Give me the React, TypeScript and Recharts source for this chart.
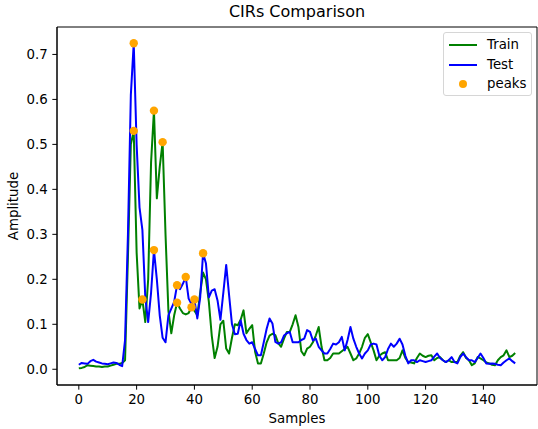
import React from 'react';
import { ComposedChart, Line, Scatter, XAxis, YAxis, Label, ReferenceArea } from 'recharts';

// Sample values (index = sample number 0..151)
const trainValues: number[] = [
  0.002, 0.003, 0.005, 0.009, 0.008, 0.007, 0.006, 0.006, 0.005, 0.006,
  0.006, 0.008, 0.010, 0.012, 0.012, 0.014, 0.020, 0.250, 0.500, 0.530,
  0.260, 0.135, 0.155, 0.105, 0.200, 0.460, 0.575, 0.380, 0.450, 0.505,
  0.300, 0.130, 0.080, 0.120, 0.148, 0.135, 0.125, 0.122, 0.125, 0.138,
  0.130, 0.120, 0.170, 0.215, 0.200, 0.150, 0.075, 0.025, 0.050, 0.100,
  0.108, 0.046, 0.035, 0.070, 0.100, 0.098, 0.110, 0.131, 0.080, 0.090,
  0.098, 0.039, 0.013, 0.013, 0.035, 0.060, 0.075, 0.079, 0.076, 0.058,
  0.050, 0.068, 0.083, 0.083, 0.100, 0.120, 0.094, 0.040, 0.031, 0.046,
  0.050, 0.060, 0.075, 0.094, 0.050, 0.020, 0.020, 0.025, 0.035, 0.035,
  0.035, 0.040, 0.045, 0.050, 0.035, 0.020, 0.024, 0.035, 0.050, 0.070,
  0.078, 0.060, 0.042, 0.020, 0.030, 0.035, 0.038, 0.020, 0.020, 0.020,
  0.020, 0.025, 0.042, 0.025, 0.016, 0.015, 0.013, 0.025, 0.035, 0.030,
  0.027, 0.030, 0.031, 0.020, 0.025, 0.027, 0.020, 0.016, 0.020, 0.016,
  0.016, 0.016, 0.030, 0.038, 0.025, 0.020, 0.009, 0.013, 0.027, 0.024,
  0.020, 0.015, 0.013, 0.010, 0.009, 0.020, 0.027, 0.031, 0.042, 0.027,
  0.030, 0.036,
];

const testValues: number[] = [
  0.010, 0.014, 0.013, 0.012, 0.018, 0.021, 0.017, 0.015, 0.013, 0.012,
  0.011, 0.013, 0.015, 0.014, 0.010, 0.007, 0.065, 0.300, 0.610, 0.725,
  0.500, 0.360, 0.310, 0.160, 0.105, 0.170, 0.265, 0.200, 0.120, 0.070,
  0.060, 0.120, 0.135, 0.150, 0.187, 0.178, 0.190, 0.205, 0.157, 0.145,
  0.155, 0.113, 0.160, 0.258, 0.235, 0.160, 0.175, 0.178, 0.153, 0.110,
  0.170, 0.232, 0.165, 0.100, 0.078, 0.079, 0.109, 0.079, 0.065, 0.057,
  0.060, 0.045, 0.031, 0.031, 0.060, 0.090, 0.113, 0.102, 0.061, 0.057,
  0.060, 0.075, 0.080, 0.083, 0.060, 0.060, 0.060, 0.065, 0.068, 0.087,
  0.083, 0.064, 0.068, 0.050, 0.042, 0.035, 0.035, 0.045, 0.057, 0.055,
  0.060, 0.072, 0.042, 0.065, 0.094, 0.068, 0.050, 0.035, 0.024, 0.035,
  0.042, 0.055, 0.057, 0.055, 0.030, 0.020, 0.027, 0.045, 0.057, 0.050,
  0.057, 0.068, 0.055, 0.030, 0.013, 0.020, 0.020, 0.016, 0.020, 0.018,
  0.016, 0.018, 0.020, 0.028, 0.035, 0.025, 0.020, 0.016, 0.020, 0.027,
  0.016, 0.013, 0.027, 0.035, 0.027, 0.020, 0.020, 0.016, 0.025, 0.035,
  0.025, 0.013, 0.012, 0.013, 0.012, 0.010, 0.009, 0.015, 0.020, 0.024,
  0.018, 0.013,
];

// Peak sample indices found on each curve
const trainPeakIdx: number[] = [19, 22, 26, 29, 34, 39];
const testPeakIdx: number[] = [19, 26, 34, 37, 40, 43];

const xTicks: number[] = [0, 20, 40, 60, 80, 100, 120, 140];
const yTicks: number[] = [0, 0.1, 0.2, 0.3, 0.4, 0.5, 0.6, 0.7];

const titleText = 'CIRs Comparison';
const xLabelText = 'Samples';
const yLabelText = 'Amplitude';
const legendItems = [
  { name: 'Train', color: 'green', kind: 'line' },
  { name: 'Test', color: 'blue', kind: 'line' },
  { name: 'peaks', color: 'orange', kind: 'dot' },
];

const rows = trainValues.map((v, i) => ({ sample: i, train: v, test: testValues[i] }));
const peakRows = [
  ...trainPeakIdx.map((i) => ({ sample: i, peak: trainValues[i] })),
  ...testPeakIdx.map((i) => ({ sample: i, peak: testValues[i] })),
];

const FONT = '"DejaVu Sans", "Liberation Sans", sans-serif';
const X_DOMAIN: [number, number] = [-7.55, 158.55];
const Y_DOMAIN: [number, number] = [-0.035, 0.761];

const TitleLabel = (props: any) => {
  const vb = props.viewBox || { x: 57, y: 27, width: 480 };
  return (
    <text x={vb.x + vb.width / 2} y={17} textAnchor="middle" fontSize={16} fill="#000" fontFamily={FONT}>
      {titleText}
    </text>
  );
};

const XLabel = (props: any) => {
  const vb = props.viewBox || { x: 57, width: 480 };
  return (
    <text x={vb.x + vb.width / 2} y={422.5} textAnchor="middle" fontSize={13.33} fill="#000" fontFamily={FONT}>
      {xLabelText}
    </text>
  );
};

const YLabel = (props: any) => {
  const vb = props.viewBox || { y: 27, height: 358 };
  const cx = 18;
  const cy = vb.y + vb.height / 2;
  return (
    <text
      x={cx}
      y={cy}
      transform={`rotate(-90 ${cx} ${cy})`}
      textAnchor="middle"
      fontSize={13.33}
      fill="#000"
      fontFamily={FONT}
    >
      {yLabelText}
    </text>
  );
};

const PeakDot = (props: any) => {
  if (props.cx == null || props.cy == null) return null;
  return <circle cx={props.cx} cy={props.cy} r={4.2} fill="orange" />;
};

const LegendBox = () => (
  <div
    style={{
      position: 'absolute',
      left: 443,
      top: 32,
      width: 89,
      height: 64,
      boxSizing: 'border-box',
      border: '1px solid #d6d6d6',
      borderRadius: 3,
      background: 'rgba(255,255,255,0.8)',
      fontFamily: FONT,
      fontSize: 13.33,
      color: '#000',
    }}
  >
    {legendItems.map((it, k) => {
      const cy = 12 + k * 19.5;
      return (
        <div key={it.name}>
          {it.kind === 'line' ? (
            <div
              style={{
                position: 'absolute',
                left: 5,
                top: cy - 1,
                width: 28,
                height: 2,
                background: it.color,
              }}
            />
          ) : (
            <div
              style={{
                position: 'absolute',
                left: 19 - 4.2,
                top: cy - 4.2,
                width: 8.4,
                height: 8.4,
                borderRadius: '50%',
                background: it.color,
              }}
            />
          )}
          <div
            style={{
              position: 'absolute',
              left: 43,
              top: cy - 9,
              height: 18,
              lineHeight: '18px',
              whiteSpace: 'nowrap',
            }}
          >
            {it.name}
          </div>
        </div>
      );
    })}
  </div>
);

export default function App() {
  const tickStyle = { fill: '#000', fontSize: 13.33, fontFamily: FONT };
  return (
    <div
      style={{
        position: 'absolute',
        left: 0,
        top: 0,
        width: 538,
        height: 429,
        background: '#fff',
        fontFamily: FONT,
        overflow: 'hidden',
      }}
    >
      <ComposedChart width={538} height={429} data={rows} margin={{ top: 27, right: 1, bottom: 0, left: 0 }}>
        <XAxis
          dataKey="sample"
          type="number"
          domain={X_DOMAIN}
          allowDataOverflow
          ticks={xTicks}
          height={44}
          tickSize={4.67}
          tickMargin={4.67}
          stroke="#000"
          tick={tickStyle}
          label={<Label content={<XLabel />} />}
        />
        <YAxis
          type="number"
          domain={Y_DOMAIN}
          allowDataOverflow
          ticks={yTicks}
          width={57}
          tickSize={4.67}
          tickMargin={4.67}
          stroke="#000"
          tick={tickStyle}
          tickFormatter={(v: number) => v.toFixed(1)}
          label={<Label content={<YLabel />} />}
        />
        <ReferenceArea
          x1={X_DOMAIN[0]}
          x2={X_DOMAIN[1]}
          y1={Y_DOMAIN[0]}
          y2={Y_DOMAIN[1]}
          fill="none"
          fillOpacity={0}
          stroke="#000"
          strokeWidth={1}
          strokeOpacity={1}
          ifOverflow="visible"
          label={<Label content={<TitleLabel />} />}
        />
        <Line
          dataKey="train"
          stroke="green"
          strokeWidth={2}
          dot={false}
          strokeLinejoin="round"
          isAnimationActive={false}
        />
        <Line
          dataKey="test"
          stroke="blue"
          strokeWidth={2}
          dot={false}
          strokeLinejoin="round"
          isAnimationActive={false}
        />
        <Scatter data={peakRows} dataKey="peak" fill="orange" shape={<PeakDot />} isAnimationActive={false} />
      </ComposedChart>
      <LegendBox />
    </div>
  );
}
